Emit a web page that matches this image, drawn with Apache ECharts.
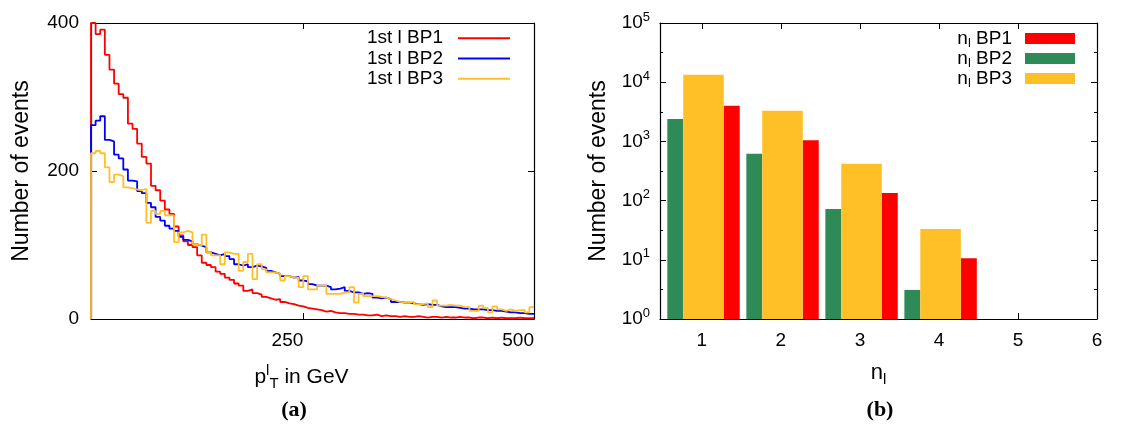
<!DOCTYPE html>
<html><head><meta charset="utf-8">
<script src="https://cdn.jsdelivr.net/npm/echarts@6/dist/echarts.min.js"></script>
<style>html,body{margin:0;padding:0;background:#fff}#c{width:1143px;height:431px}</style>
</head><body><div id="c"></div>
<script>
// ---- left panel: pT of leading lepton, 5 GeV bins starting at 20 GeV
const binStart = 20;
const binWidth = 5;
const ptBP1 = [400,385,391,357,337,318,304,299,264,257,
  237,219,210,180,174,160,148,142,125,113,
  105,100,97,86,76,73,70,64,61,56,
  53,48,45,38,40,35,33,30,28,26,
  27,23,21,20,18,17,15,14,13,12,
  10,11,9,8,8,7,7,6,6,5,
  5,6,4,5,4,4,3,4,3,3,
  4,3,2,3,3,2,3,2,2,3,
  2,2,1,2,2,1,2,1,2,1,
  1,1,2,1,1,1];
const ptBP2 = [262,268,274,242,240,222,217,202,187,186,
  173,170,157,151,138,133,126,122,119,111,
  107,105,101,99,97,90,88,86,88,85,
  81,74,72,74,70,72,71,69,65,63,
  61,58,58,56,57,52,51,47,45,45,
  45,43,40,41,43,38,36,36,34,35,
  34,29,28,29,27,23,23,22,22,21,
  20,19,20,19,19,17,16,16,16,15,
  14,14,13,13,13,12,12,11,11,10,
  9,9,8,8,7,7];
const ptBP3 = [224,227,224,205,185,195,193,178,177,175,
  174,176,130,146,142,146,140,140,104,117,
  119,117,101,99,114,90,86,86,74,90,
  88,88,65,77,88,54,74,67,63,63,
  61,52,58,56,56,43,58,40,40,45,
  45,34,34,34,36,36,43,22,34,31,
  31,31,30,29,27,25,23,22,22,23,
  20,20,21,16,25,18,18,19,18,18,
  16,16,11,11,18,15,9,17,13,11,
  13,11,12,12,9,16];
const ptTicks = [250, 500];

// ---- right panel: lepton multiplicity
const nlCats = [1, 2, 3, 4];
const nlBP1 = [4000, 1050, 135, 10.6];
const nlBP2 = [2400, 620, 72, 3.1];
const nlBP3 = [13300, 3300, 420, 33];
const nlTicks = [1, 2, 3, 4, 5, 6];
const logMajor = [1, 10, 100, 1000, 10000, 100000];
const logMinor = [3.1623, 31.623, 316.23, 3162.3, 31623];

const FONT = '"Liberation Sans", Arial, Helvetica, sans-serif';
const RED = '#ff0000', BLUE = '#0000ff', GOLD = '#ffbf26', GREEN = '#2e8b57';

function stepData(vals) {
  const d = [[binStart, 0]];
  vals.forEach((v, i) => d.push([binStart + i * binWidth, v]));
  d.push([binStart + vals.length * binWidth, vals[vals.length - 1]]);
  return d;
}
function lineSeries(name, vals, color) {
  return { type: 'line', name, xAxisIndex: 0, yAxisIndex: 0, step: 'end', symbol: 'none',
    data: stepData(vals), lineStyle: { color, width: 1.8 }, itemStyle: { color },
    animation: false, clip: true };
}
// visible part of each grouped bar, in units of the n_l axis, relative to the category
const segs = { bp2: [-0.4375, -0.236], bp3: [-0.236, 0.277], bp1: [0.277, 0.479] };
function barSeries(name, vals, color, seg) {
  return { type: 'custom', name, xAxisIndex: 2, yAxisIndex: 2,
    data: nlCats.map((c, i) => [c, vals[i]]), itemStyle: { color }, animation: false,
    renderItem(params, api) {
      const x = api.value(0), y = api.value(1);
      const p0 = api.coord([x + seg[0], y]);
      const p1 = api.coord([x + seg[1], 1]);
      return { type: 'rect', shape: { x: p0[0], y: p0[1], width: p1[0] - p0[0], height: p1[1] - p0[1] },
        style: { fill: color } };
    } };
}
const tickStyle = { show: true, inside: true, length: 6, lineStyle: { color: '#000', width: 1 } };
const lineAx = { show: true, onZero: false, lineStyle: { color: '#000', width: 1.2 } };
const lbl = { color: '#000', fontFamily: FONT, fontSize: 19 };
const supRich = { b: { fontSize: 19, fontFamily: FONT, color: '#000' },
  s: { fontSize: 13, fontFamily: FONT, color: '#000', padding: [0, 0, 12, 0] } };

const chart = echarts.init(document.getElementById('c'), null, { renderer: 'canvas' });
chart.setOption({
  animation: false,
  backgroundColor: '#fff',
  grid: [
    { left: 91, right: 609, top: 23, bottom: 112 },
    { left: 660, right: 46, top: 23, bottom: 112 }
  ],
  xAxis: [
    { type: 'value', gridIndex: 0, min: binStart, max: 500, position: 'bottom',
      axisLine: lineAx, splitLine: { show: false },
      axisTick: Object.assign({}, tickStyle, { customValues: ptTicks }),
      axisLabel: Object.assign({}, lbl, { customValues: ptTicks, margin: 12, align: 'right' }),
      name: 'p{sup|l}{sub|T} in GeV', nameLocation: 'middle', nameGap: 44,
      nameTextStyle: { color: '#000', fontFamily: FONT, fontSize: 21, padding: [0, 22, 0, 0],
        rich: { sup: { fontSize: 15, fontFamily: FONT, color: '#000', padding: [0, 0, 14, 0] },
                sub: { fontSize: 15, fontFamily: FONT, color: '#000', padding: [12, 0, 0, 0] } } } },
    { type: 'value', gridIndex: 0, min: binStart, max: 500, position: 'top',
      axisLine: lineAx, splitLine: { show: false },
      axisTick: Object.assign({}, tickStyle, { customValues: ptTicks }),
      axisLabel: { show: false } },
    { type: 'value', gridIndex: 1, min: 0.47, max: 6, position: 'bottom',
      axisLine: lineAx, splitLine: { show: false },
      axisTick: Object.assign({}, tickStyle, { customValues: nlTicks }),
      axisLabel: Object.assign({}, lbl, { customValues: nlTicks, margin: 12 }),
      name: 'n{sub|l}', nameLocation: 'middle', nameGap: 39,
      nameTextStyle: { color: '#000', fontFamily: FONT, fontSize: 22,
        rich: { sub: { fontSize: 15, fontFamily: FONT, color: '#000', padding: [14, 0, 0, 0] } } } },
    { type: 'value', gridIndex: 1, min: 0.47, max: 6, position: 'top',
      axisLine: lineAx, splitLine: { show: false },
      axisTick: Object.assign({}, tickStyle, { customValues: nlTicks }),
      axisLabel: { show: false } }
  ],
  yAxis: [
    { type: 'value', gridIndex: 0, min: 0, max: 400, interval: 200, position: 'left',
      axisLine: lineAx, splitLine: { show: false }, axisTick: tickStyle,
      axisLabel: Object.assign({}, lbl, { margin: 12 }),
      name: 'Number of events', nameLocation: 'middle', nameGap: 58,
      nameTextStyle: { color: '#000', fontFamily: FONT, fontSize: 23 } },
    { type: 'value', gridIndex: 0, min: 0, max: 400, interval: 200, position: 'right',
      axisLine: lineAx, splitLine: { show: false }, axisTick: tickStyle, axisLabel: { show: false } },
    { type: 'log', logBase: 10, gridIndex: 1, min: 1, max: 100000, position: 'left',
      axisLine: lineAx, splitLine: { show: false },
      axisTick: Object.assign({}, tickStyle, { customValues: logMajor }),
      axisLabel: { customValues: logMajor, margin: 10, rich: supRich,
        formatter: v => '{b|10}{s|' + Math.round(Math.log10(v)) + '}' },
      name: 'Number of events', nameLocation: 'middle', nameGap: 50,
      nameTextStyle: { color: '#000', fontFamily: FONT, fontSize: 23 } },
    { type: 'log', logBase: 10, gridIndex: 1, min: 1, max: 100000, position: 'right',
      axisLine: lineAx, splitLine: { show: false },
      axisTick: Object.assign({}, tickStyle, { customValues: logMajor }), axisLabel: { show: false } },
    { type: 'log', logBase: 10, gridIndex: 1, min: 1, max: 100000, position: 'left',
      axisLine: { show: false }, splitLine: { show: false },
      axisTick: Object.assign({}, tickStyle, { length: 3, customValues: logMinor }), axisLabel: { show: false } },
    { type: 'log', logBase: 10, gridIndex: 1, min: 1, max: 100000, position: 'right',
      axisLine: { show: false }, splitLine: { show: false },
      axisTick: Object.assign({}, tickStyle, { length: 3, customValues: logMinor }), axisLabel: { show: false } }
  ],
  legend: [
    { orient: 'vertical', right: 628, top: 23, align: 'right', icon: 'rect',
      itemWidth: 52, itemHeight: 2, itemGap: 0, selectedMode: false,
      data: ['1st l BP1', '1st l BP2', '1st l BP3'],
      textStyle: { color: '#000', fontFamily: FONT, fontSize: 19, lineHeight: 20.3, padding: [0, 10, 0, 0] } },
    { orient: 'vertical', right: 63, top: 24, align: 'right', icon: 'rect',
      itemWidth: 50, itemHeight: 11, itemGap: -1, selectedMode: false,
      data: ['BP1', 'BP2', 'BP3'],
      formatter: n => 'n{sub|l} ' + n,
      textStyle: { color: '#000', fontFamily: FONT, fontSize: 19, padding: [0, 8, 0, 0],
        rich: { sub: { fontSize: 13, fontFamily: FONT, color: '#000', padding: [10, 0, 0, 0] } } } }
  ],
  graphic: [
    { type: 'text', x: 294, y: 410, style: { text: '(a)', font: 'bold 22px "Liberation Serif", "Times New Roman", serif',
      align: 'center', verticalAlign: 'middle', fill: '#000' } },
    { type: 'text', x: 880, y: 410, style: { text: '(b)', font: 'bold 22px "Liberation Serif", "Times New Roman", serif',
      align: 'center', verticalAlign: 'middle', fill: '#000' } }
  ],
  series: [
    lineSeries('1st l BP1', ptBP1, RED),
    lineSeries('1st l BP2', ptBP2, BLUE),
    lineSeries('1st l BP3', ptBP3, GOLD),
    barSeries('BP1', nlBP1, RED, segs.bp1),
    barSeries('BP2', nlBP2, GREEN, segs.bp2),
    barSeries('BP3', nlBP3, GOLD, segs.bp3)
  ]
});
</script></body></html>
